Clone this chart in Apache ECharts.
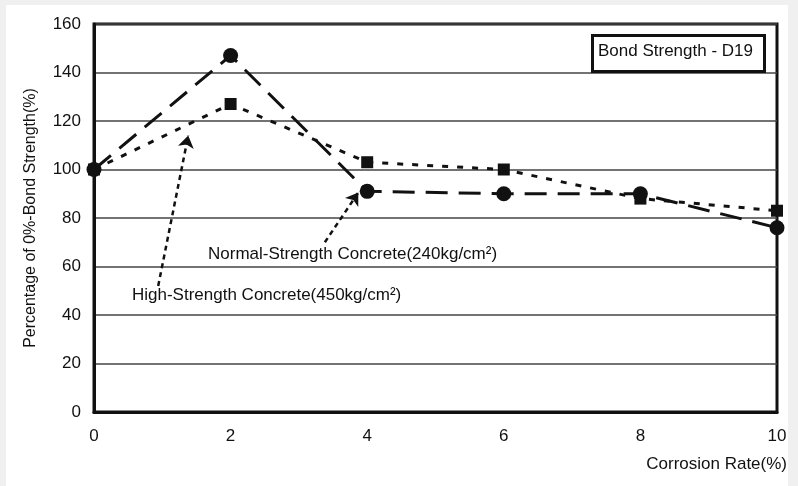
<!DOCTYPE html>
<html>
<head>
<meta charset="utf-8">
<script src="https://cdn.jsdelivr.net/npm/echarts@6/dist/echarts.min.js"></script>
<style>
html,body{margin:0;padding:0;background:#f0f0f0;}
#wrap{position:absolute;left:6px;top:5px;width:782px;height:481px;background:#fff;}
#c{position:absolute;left:0;top:0;width:798px;height:486px;}
</style>
</head>
<body>
<div id="wrap"></div>
<div id="c"></div>
<script>
const corrosionRate = [0, 2, 4, 6, 8, 10];
const normalStrength = [100, 147, 91, 90, 90, 76];
const highStrength = [100, 127, 103, 100, 88, 83];
const yTicks = [0, 20, 40, 60, 80, 100, 120, 140, 160];
const xTicks = [0, 2, 4, 6, 8, 10];
const normalLabel = 'Normal-Strength Concrete(240kg/cm²)';
const highLabel = 'High-Strength Concrete(450kg/cm²)';
const boxTitle = 'Bond Strength - D19';
// annotation arrows: [start, tip] in data coords
const highArrow = [[0.94, 52], [1.38, 114]];
const normalArrow = [[3.38, 70], [3.87, 90.5]];

const FONT = "'Liberation Sans',Arial,sans-serif";
const chart = echarts.init(document.getElementById('c'), null, {renderer:'canvas'});

function pairs(xs, ys){ return xs.map((x,i)=>[x, ys[i]]); }

function arrowMark(arr){
  return {
    silent: true, symbol: ['none', 'arrow'], symbolSize: 12,
    label: {show: false},
    lineStyle: {color: '#111', width: 2.5, type: [5, 4]},
    itemStyle: {color: '#111'},
    data: [[{coord: arr[0]}, {coord: arr[1]}]]
  };
}

const option = {
  backgroundColor: 'transparent',
  animation: false,
  grid: {left: 94, right: 21, top: 24, bottom: 74, show: true, borderColor: '#111', borderWidth: 3},
  xAxis: {
    type: 'value', min: 0, max: 10, interval: 2,
    axisLine: {show: true, lineStyle: {color: '#111', width: 3}},
    axisTick: {show: false},
    splitLine: {show: false},
    axisLabel: {color: '#111', fontSize: 17, fontFamily: FONT, margin: 16},
    name: 'Corrosion Rate(%)', nameLocation: 'end', nameGap: 10,
    nameTextStyle: {color: '#111', fontSize: 17, fontFamily: FONT, align: 'right', verticalAlign: 'top', padding: [44, 0, 0, 0]}
  },
  yAxis: {
    type: 'value', min: 0, max: 160, interval: 20,
    axisLine: {show: true, lineStyle: {color: '#111', width: 3}},
    axisTick: {show: false},
    splitLine: {show: true, lineStyle: {color: '#444', width: 1.5}},
    axisLabel: {color: '#111', fontSize: 17, fontFamily: FONT, margin: 13},
    name: 'Percentage of 0%-Bond Strength(%)', nameLocation: 'middle', nameRotate: 90, nameGap: 55,
    nameTextStyle: {color: '#111', fontSize: 16, fontFamily: FONT}
  },
  series: [
    {
      name: 'Normal-Strength Concrete', type: 'line', data: pairs(corrosionRate, normalStrength),
      symbol: 'circle', symbolSize: 15,
      itemStyle: {color: '#111'},
      lineStyle: {color: '#111', width: 3, type: [22, 11]},
      z: 3,
      markLine: arrowMark(normalArrow)
    },
    {
      name: 'High-Strength Concrete', type: 'line', data: pairs(corrosionRate, highStrength),
      symbol: 'rect', symbolSize: 12,
      itemStyle: {color: '#111'},
      lineStyle: {color: '#111', width: 3, type: [6, 9]},
      z: 2,
      markLine: arrowMark(highArrow)
    }
  ],
  graphic: [
    {type: 'rect', left: 591, top: 34, shape: {width: 172, height: 36}, style: {fill: '#fff', stroke: '#111', lineWidth: 3}, z: 10},
    {type: 'text', left: 598, top: 43, style: {text: boxTitle, fill: '#111', font: '17px ' + FONT}, z: 11},
    {type: 'text', left: 208, top: 246, style: {text: normalLabel, fill: '#111', font: '17px ' + FONT}, z: 11},
    {type: 'text', left: 132, top: 287, style: {text: highLabel, fill: '#111', font: '17px ' + FONT}, z: 11}
  ]
};
chart.setOption(option);
</script>
</body>
</html>
